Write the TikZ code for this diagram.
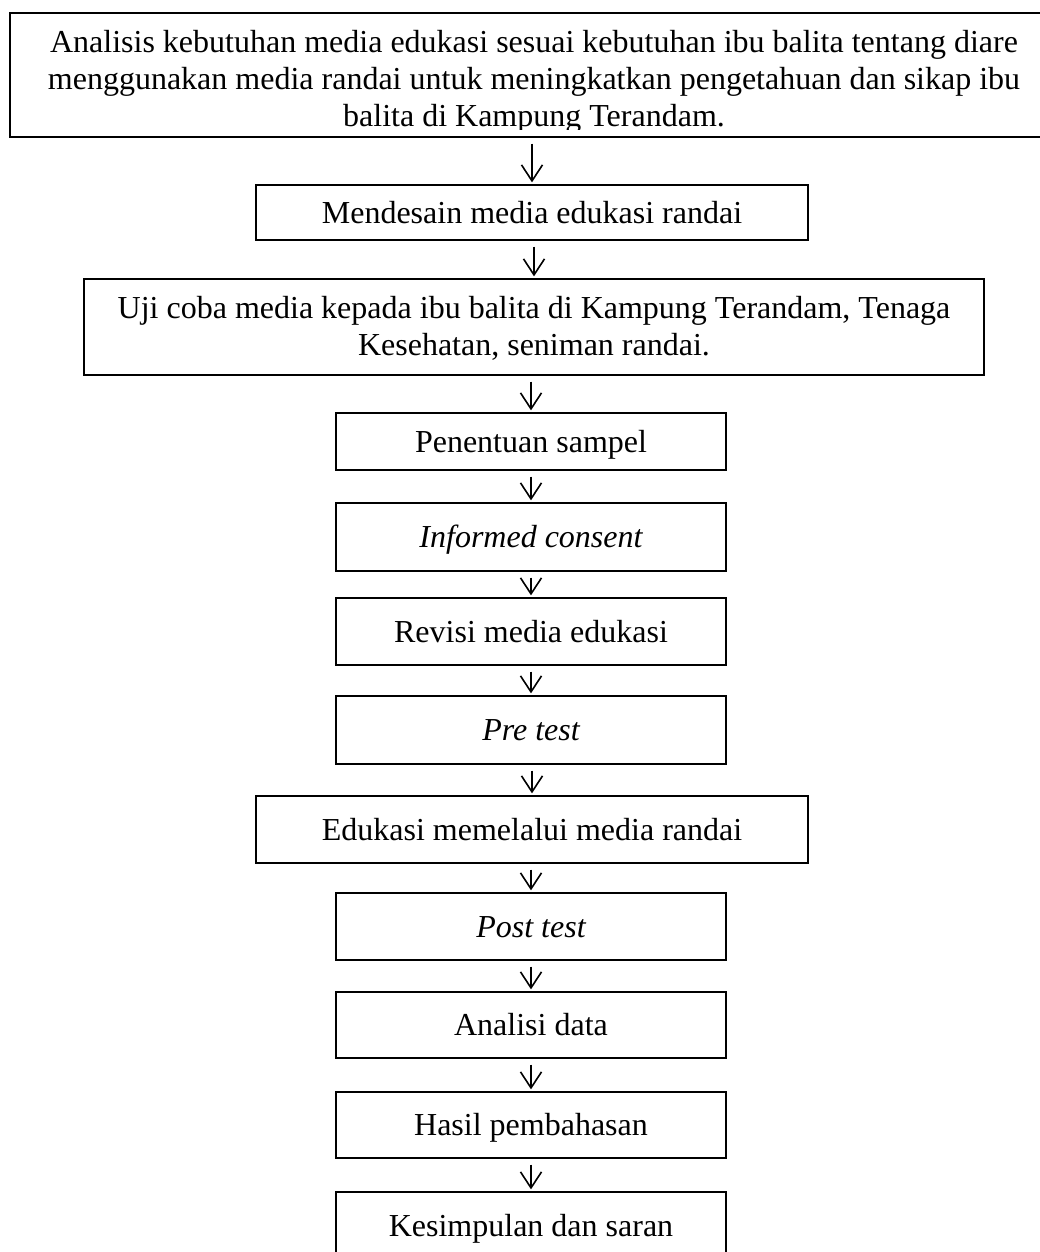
\documentclass[tikz,border=0pt]{standalone}
\usepackage{fontspec}
\setmainfont{Liberation Serif}
\usetikzlibrary{arrows.meta}
\begin{document}
\begin{tikzpicture}[x=1pt,y=-1pt,
  stepbox/.style={draw=black, line width=1.3pt, rectangle, inner sep=0pt,
    text height=21pt, text depth=0pt, font=\fontsize{32}{37}\selectfont},
  multitext/.style={anchor=north, align=center, inner sep=0pt,
    font=\fontsize{32}{37}\selectfont},
  flow/.style={line width=1.6pt, -{Straight Barb[length=16pt,width=21pt]},
    shorten <=6pt, shorten >=2pt}]
\useasboundingbox (0,0) rectangle (1040,1252);
\fill[white] (0,0) rectangle (1040,1252);

% first step: wide box, its text trimmed at the lower edge
\node[stepbox, minimum width=1048pt, minimum height=124pt] (s1) at (534,75) {};
\begin{scope}
  \clip (s1.north west) rectangle ([yshift=8pt]s1.south east);
  \node[multitext] (s1t) at (534,30) {Analisis kebutuhan media edukasi sesuai kebutuhan ibu balita tentang diare\\menggunakan media randai untuk meningkatkan pengetahuan dan sikap ibu\\balita di Kampung Terandam.};
\end{scope}

\node[stepbox, minimum width=552pt, minimum height=55pt] (s2) at (532,212.5) {Mendesain media edukasi randai};

\node[stepbox, minimum width=900pt, minimum height=96pt] (s3) at (534,327) {};
\node[multitext] (s3t) at (534,296) {Uji coba media kepada ibu balita di Kampung Terandam, Tenaga\\Kesehatan, seniman randai.};

\node[stepbox, minimum width=390pt, minimum height=57pt] (s4) at (531,441.5) {Penentuan sampel};
\node[stepbox, minimum width=390pt, minimum height=68pt] (s5) at (531,537) {\itshape Informed consent};
\node[stepbox, minimum width=390pt, minimum height=67pt] (s6) at (531,631.5) {Revisi media edukasi};
\node[stepbox, minimum width=390pt, minimum height=68pt] (s7) at (531,730) {\itshape Pre test};
\node[stepbox, minimum width=552pt, minimum height=67pt] (s8) at (532,829.5) {Edukasi memelalui media randai};
\node[stepbox, minimum width=390pt, minimum height=67pt] (s9) at (531,926.5) {\itshape Post test};
\node[stepbox, minimum width=390pt, minimum height=66pt] (s10) at (531,1025) {Analisi data};
\node[stepbox, minimum width=390pt, minimum height=66pt] (s11) at (531,1125) {Hasil pembahasan};
\node[stepbox, minimum width=390pt, minimum height=68pt] (s12) at (531,1226) {Kesimpulan dan saran};

% connectors between consecutive steps
\foreach \a/\b in {s1/s2, s2/s3, s3/s4, s4/s5, s5/s6, s6/s7, s7/s8, s8/s9, s9/s10, s10/s11, s11/s12}
  \draw[flow] (\a.south -| \b.north) -- (\b.north);
\end{tikzpicture}
\end{document}
